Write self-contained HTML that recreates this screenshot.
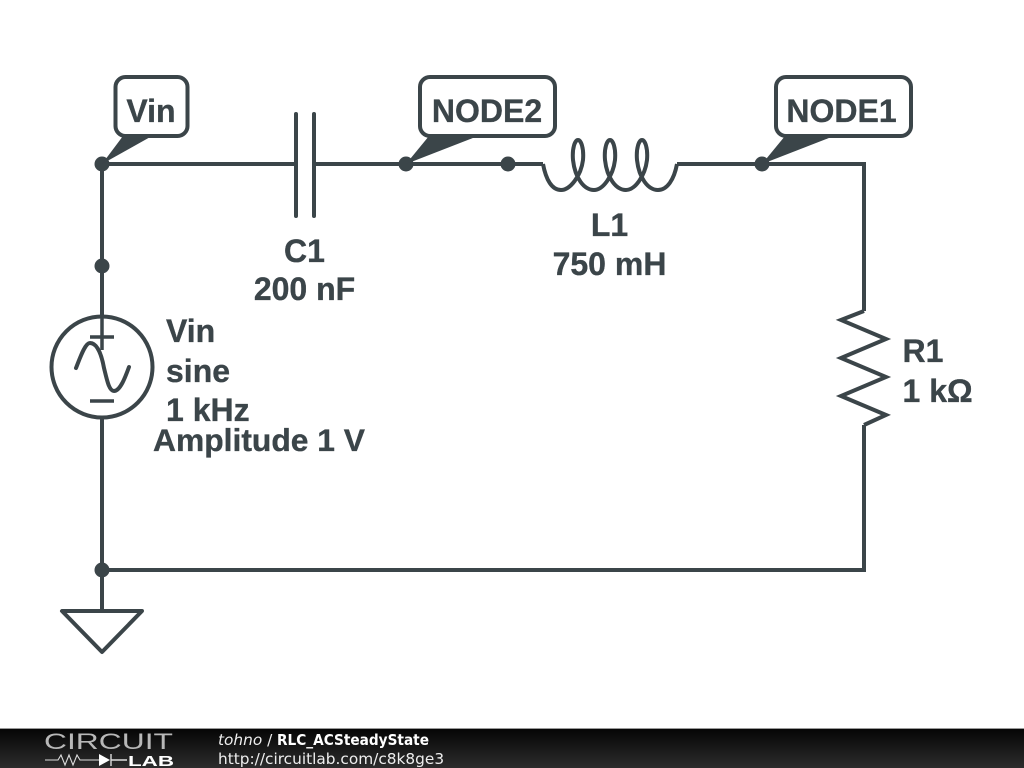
<!DOCTYPE html>
<html><head><meta charset="utf-8"><title>RLC_ACSteadyState</title>
<style>
html,body{margin:0;padding:0;width:1024px;height:768px;overflow:hidden;background:#fff}
svg{display:block}
.t{font-family:"Liberation Sans",sans-serif;font-weight:bold;font-size:32px;fill:#3b4449;stroke:#3b4449;stroke-width:0.35}
.w{fill:none;stroke:#3b4449;stroke-width:4;stroke-linejoin:miter}
.f{font-family:"DejaVu Sans",sans-serif;font-size:15.35px;fill:#eee}
</style></head>
<body>
<svg width="1024" height="768" viewBox="0 0 1024 768" xmlns="http://www.w3.org/2000/svg">
<defs>
<linearGradient id="bar" x1="0" y1="0" x2="0" y2="1"><stop offset="0" stop-color="#050505"/><stop offset="1" stop-color="#2c2c2c"/></linearGradient>
<filter id="soft" x="-2%" y="-2%" width="104%" height="104%"><feGaussianBlur stdDeviation="0.35"/></filter>
</defs>
<g filter="url(#soft)">
<!-- wires -->
<path class="w" d="M102 164H294M316 164H543M677 164H864V311M864 425V570H102M102 164V316M102 418V611"/>
<!-- capacitor -->
<path class="w" d="M296 114V216M314 114V216" style="stroke-linecap:round"/>
<!-- inductor -->
<path class="w" d="M543 164C546 180 552 190 561 190C570 190 581 176 583 160C584 148 581 140 578 140C575 140 572 148 573 160C575 178 584 190 594 190C603 190 613 176 615 160C616 148 613 140 610 140C607 140 604 148 605 160C607 178 616 190 626 190C635 190 645 176 647 160C648 148 645 140 642 140C639 140 636 148 637 160C639 178 648 190 658 190C667 190 674 180 677 164"/>
<!-- resistor -->
<path class="w" d="M864 311L841 320L886 339L841 358L886 377L841 396L886 415L864 425"/>
<!-- source -->
<circle class="w" cx="102" cy="367" r="50.5"/>
<path class="w" style="stroke-width:3.5" d="M102 316V350M90 337H114M90 401H114"/>
<path class="w" style="stroke-linecap:round" d="M76 368C80 358 85 343 90 343C98 343 102 357 104 368C107 380 109 391 114 391C120 391 125 378 129 367"/>
<!-- ground -->
<path class="w" d="M62 611H142L102 652Z" style="stroke-linejoin:round"/>
<!-- junctions -->
<g fill="#3b4449">
<circle cx="102" cy="164" r="7.5"/><circle cx="102" cy="266" r="7.5"/><circle cx="102" cy="570" r="7.5"/>
<circle cx="406" cy="164" r="7.5"/><circle cx="508" cy="164" r="7.5"/><circle cx="762" cy="164" r="7.5"/>
<!-- pointers -->
<path d="M102 164L123 136H152Z"/>
<path d="M406 164L429 136H478Z"/>
<path d="M762 164L785 136H834Z"/>
</g>
<!-- label boxes -->
<rect class="w" x="115.500" y="77" width="72" height="59" rx="10" style="fill:#fff"/>
<rect class="w" x="420" y="77" width="135" height="59" rx="10" style="fill:#fff"/>
<rect class="w" x="776" y="77" width="135" height="59" rx="10" style="fill:#fff"/>
<path d="M124 136H151L146 139H121Z M430 136H477L470 139H428Z M786 136H833L826 139H784Z" fill="#3b4449"/>
<!-- labels -->
<text class="t" x="151" y="122" text-anchor="middle">Vin</text>
<text class="t" x="487" y="122" text-anchor="middle">NODE2</text>
<text class="t" x="841.500" y="122" text-anchor="middle">NODE1</text>
<text class="t" x="304.500" y="262" text-anchor="middle">C1</text>
<text class="t" x="304.500" y="300" text-anchor="middle">200 nF</text>
<text class="t" x="609.500" y="236" text-anchor="middle">L1</text>
<text class="t" x="609.500" y="275" text-anchor="middle">750 mH</text>
<text class="t" x="902.500" y="362">R1</text>
<text class="t" x="902.500" y="402">1 kΩ</text>
<text class="t" x="166" y="342">Vin</text>
<text class="t" x="166" y="382">sine</text>
<text class="t" x="166" y="421">1 kHz</text>
<text class="t" x="153" y="451" style="font-size:31.8px">Amplitude 1 V</text>
</g>
<!-- footer -->
<rect x="0" y="729" width="1024" height="39" fill="url(#bar)"/>
<rect x="0" y="728" width="1024" height="1" fill="#999"/>
<text x="44" y="749" font-family="'Liberation Sans',sans-serif" font-size="22" fill="#b8b8b8" textLength="129" lengthAdjust="spacingAndGlyphs">CIRCUIT</text>
<path d="M45 760H58L61 755L65 765L69 755L73 765L77 755L80 760H99" fill="none" stroke="#ddd" stroke-width="1.1"/>
<path d="M99 754L110 760L99 766Z" fill="#fff"/>
<path d="M111 754V766M111 760H127" fill="none" stroke="#ddd" stroke-width="1.4"/>
<text x="128" y="766" font-family="'Liberation Sans',sans-serif" font-weight="bold" font-size="15" fill="#fff" textLength="46" lengthAdjust="spacingAndGlyphs">LAB</text>
<text class="f" x="218" y="745"><tspan font-style="italic">tohno</tspan> /</text>
<text class="f" x="277" y="745" font-weight="bold" fill="#fff" textLength="152" lengthAdjust="spacingAndGlyphs" style="fill:#fff">RLC_ACSteadyState</text>
<text class="f" x="218" y="764">http://circuitlab.com/c8k8ge3</text>
</svg>
</body></html>
